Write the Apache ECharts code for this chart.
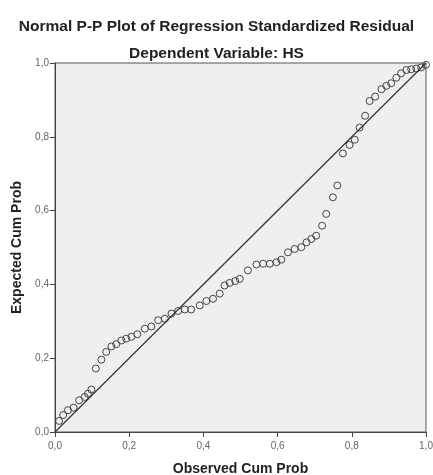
<!DOCTYPE html>
<html>
<head>
<meta charset="utf-8">
<script src="https://cdn.jsdelivr.net/npm/echarts@6/dist/echarts.min.js"></script>
<style>
html,body{margin:0;padding:0;background:#fff;}
#chart{width:433px;height:475px;}
</style>
</head>
<body>
<div id="chart"></div>
<script>
var titleText = "Normal P-P Plot of Regression Standardized Residual";
var subtitleText = "Dependent Variable: HS";
var xAxisName = "Observed Cum Prob";
var yAxisName = "Expected Cum Prob";
var tickValues = [0, 0.2, 0.4, 0.6, 0.8, 1.0];

var observedCumProb = [
  0.011, 0.022, 0.035, 0.050, 0.065, 0.080, 0.089, 0.098, 0.110, 0.125,
  0.138, 0.152, 0.165, 0.179, 0.192, 0.206, 0.222, 0.242, 0.260, 0.278,
  0.296, 0.314, 0.332, 0.350, 0.367, 0.390, 0.408, 0.426, 0.444, 0.457,
  0.471, 0.486, 0.498, 0.520, 0.543, 0.561, 0.579, 0.597, 0.610, 0.628,
  0.646, 0.664, 0.678, 0.691, 0.704, 0.720, 0.731, 0.749, 0.761, 0.776,
  0.794, 0.808, 0.821, 0.836, 0.848, 0.863, 0.880, 0.893, 0.906, 0.920,
  0.933, 0.947, 0.960, 0.974, 0.987, 1.000
];
var expectedCumProb = [
  0.030, 0.046, 0.059, 0.066, 0.086, 0.095, 0.104, 0.115, 0.172, 0.196,
  0.217, 0.232, 0.238, 0.248, 0.253, 0.258, 0.265, 0.280, 0.286, 0.303,
  0.307, 0.321, 0.328, 0.332, 0.332, 0.343, 0.355, 0.361, 0.375, 0.397,
  0.404, 0.409, 0.415, 0.438, 0.454, 0.456, 0.456, 0.460, 0.467, 0.487,
  0.496, 0.501, 0.514, 0.523, 0.532, 0.559, 0.591, 0.636, 0.668, 0.755,
  0.778, 0.792, 0.825, 0.857, 0.897, 0.909, 0.929, 0.938, 0.945, 0.960,
  0.972, 0.981, 0.983, 0.985, 0.988, 0.995
];
var referenceLineX = [0, 1];
var referenceLineY = [0, 1];

var points = observedCumProb.map(function (x, i) { return [x, expectedCumProb[i]]; });
var refLine = referenceLineX.map(function (x, i) { return [x, referenceLineY[i]]; });

function fmt(v) { return v.toFixed(1).replace('.', ','); }

var font = "'Liberation Sans', Arial, sans-serif";
var chart = echarts.init(document.getElementById('chart'), null, {renderer: 'canvas'});
var axisCommon = {
  type: 'value', min: 0, max: 1, interval: 0.2,
  nameLocation: 'middle',
  nameTextStyle: {fontFamily: font, fontWeight: 'bold', fontSize: 14, color: '#222'},
  axisLine: {show: true, lineStyle: {color: '#444', width: 1}},
  axisTick: {show: true, length: 5, inside: false, lineStyle: {color: '#444'}},
  axisLabel: {fontFamily: font, fontSize: 10, color: '#666', formatter: fmt},
  splitLine: {show: false}
};
chart.setOption({
  animation: false,
  backgroundColor: '#fff',
  title: [
    {text: titleText, left: 'center', top: 14,
     textStyle: {fontFamily: font, fontWeight: 'bold', fontSize: 15.5, color: '#222'}},
    {text: subtitleText, left: 'center', top: 41,
     textStyle: {fontFamily: font, fontWeight: 'bold', fontSize: 15.5, color: '#222'}}
  ],
  grid: {left: 55, top: 63, width: 371, height: 369, show: true,
         outerBoundsMode: 'none', containLabel: false,
         backgroundColor: '#efefef', borderColor: '#555', borderWidth: 1},
  xAxis: Object.assign({}, axisCommon, {name: xAxisName, nameGap: 30,
    axisLabel: Object.assign({}, axisCommon.axisLabel, {margin: 9})}),
  yAxis: Object.assign({}, axisCommon, {name: yAxisName, nameGap: 28,
    axisLabel: Object.assign({}, axisCommon.axisLabel, {margin: 6})}),
  series: [
    {type: 'line', data: refLine, symbol: 'none', silent: true,
     lineStyle: {color: '#333', width: 1.2}},
    {type: 'scatter', data: points, symbol: 'circle', symbolSize: 7,
     itemStyle: {color: 'rgba(0,0,0,0)', borderColor: '#444', borderWidth: 1, opacity: 1}}
  ]
});
</script>
</body>
</html>
